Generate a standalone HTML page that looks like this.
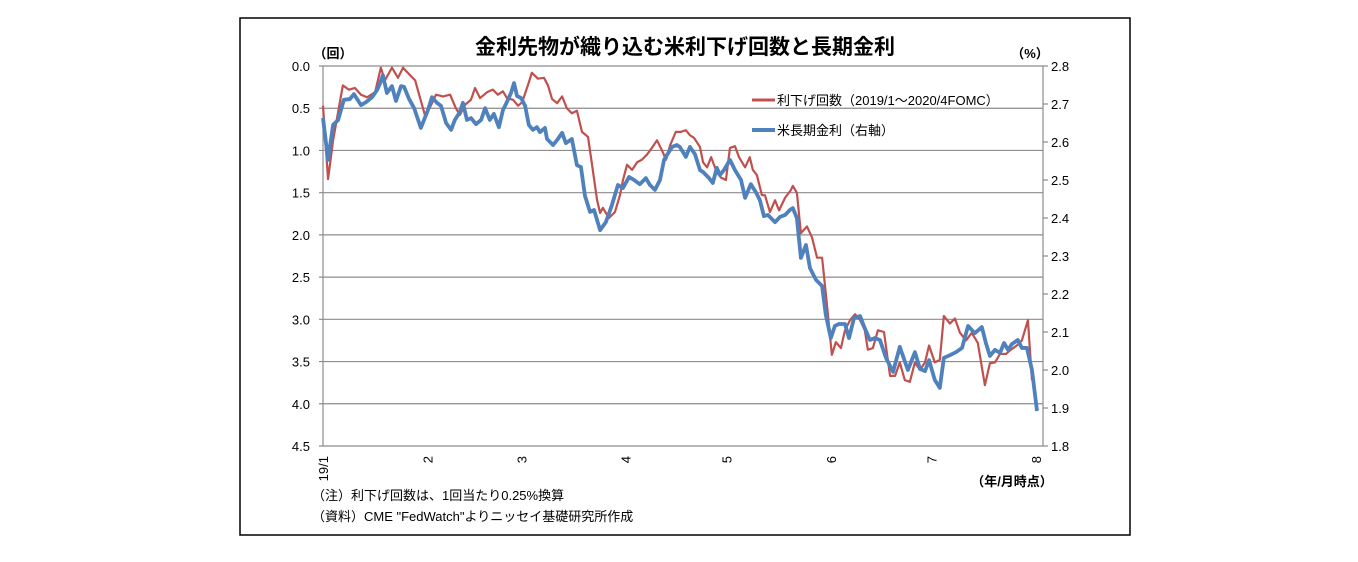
<!DOCTYPE html>
<html><head><meta charset="utf-8"><style>
body{margin:0;background:#fff;}
svg{display:block;font-family:"Liberation Sans","Noto Sans CJK JP",sans-serif;}
</style></head><body>
<svg id="c" width="1358" height="562">
<rect x="240" y="18" width="890" height="517" fill="#fff" stroke="#000" stroke-width="1.5"/>
<text x="685" y="54" font-size="21" font-weight="bold" text-anchor="middle">金利先物が織り込む米利下げ回数と長期金利</text>
<text x="333" y="58" font-size="13" font-weight="bold" text-anchor="middle">（回）</text>
<text x="1030" y="58" font-size="13" font-weight="bold" text-anchor="middle">（%）</text>
<g id="grid"></g><g id="ticks"></g><g id="lines"></g>
<g>
<line x1="752" y1="100" x2="775" y2="100" stroke="#c0504d" stroke-width="3"/>
<text x="777" y="105" font-size="13">利下げ回数（2019/1～2020/4FOMC）</text>
<line x1="752" y1="130" x2="775" y2="130" stroke="#4f81bd" stroke-width="4"/>
<text x="777" y="135" font-size="13">米長期金利（右軸）</text>
</g>
<text x="1012" y="486" font-size="13" font-weight="bold" text-anchor="middle">（年/月時点）</text>
<text x="312" y="500" font-size="13">（注）利下げ回数は、1回当たり0.25%換算</text>
<text x="312" y="521" font-size="13">（資料）CME "FedWatch"よりニッセイ基礎研究所作成</text>
</svg>
<script>
const monthLabels=["19/1","2","3","4","5","6","7","8"];
const monthDays=[0,31,59,90,120,151,181,212];
const leftTicks=[0,0.5,1,1.5,2,2.5,3,3.5,4,4.5];
const rightTicks=[2.8,2.7,2.6,2.5,2.4,2.3,2.2,2.1,2.0,1.9,1.8];
const cutDays=[0,1.5,3,5.9,7.7,9.5,11.3,13.1,15.5,17.2,18.4,20.5,22.3,23.8,25.9,27.4,28.8,30.3,31.8,33.6,35.7,37.8,39.5,40.7,42.2,44,45.2,46.7,48.8,50.5,52,53.5,54.7,56.5,58,59.2,60.9,62.1,63.9,65.7,66.9,68.1,69.6,71.1,72.5,74,75.5,77,78.8,80,81.5,82.4,83.2,85,86.8,88.3,89.2,90.4,91.9,93.4,94.8,96.3,97.8,99.3,100.8,102,103.2,104.9,106.4,107.9,109.1,110.3,112.1,113,114.2,115.4,117.1,118.3,119.8,121,122.5,123.7,125.5,126.9,127.8,129,130.5,131.4,132.9,134.4,135.6,137.4,139.1,139.7,140.9,142.1,143.9,145.4,146.9,148.4,149.8,151.3,152.5,154,155.2,156.7,158.2,159.7,161.1,162,163.5,165,166.8,168.6,170.1,171.5,173,174.5,176,177.5,179,180.2,181.9,183.4,184.6,186.4,187.9,189.4,191.2,192.9,194.7,196.8,198.3,199.8,201.3,203.1,204.5,206.3,207.8,209.6,210.8];
const cutValues=[0.47,1.34,0.88,0.23,0.28,0.26,0.34,0.37,0.31,0.02,0.17,0.02,0.14,0.02,0.11,0.17,0.37,0.58,0.49,0.34,0.36,0.34,0.5,0.58,0.46,0.4,0.26,0.38,0.31,0.28,0.34,0.3,0.38,0.4,0.47,0.43,0.23,0.08,0.15,0.14,0.23,0.39,0.44,0.36,0.5,0.56,0.53,0.78,0.84,1.17,1.59,1.74,1.68,1.8,1.73,1.53,1.35,1.17,1.23,1.14,1.11,1.05,0.97,0.88,1,1.11,0.94,0.78,0.78,0.76,0.82,0.85,0.96,1.14,1.2,1.08,1.26,1.32,1.35,0.97,0.95,1.08,1.2,1.08,1.23,1.29,1.53,1.53,1.73,1.59,1.71,1.56,1.47,1.42,1.5,1.98,1.9,2.03,2.27,2.27,2.81,3.42,3.27,3.34,3.13,3.01,2.94,3.01,3.13,3.36,3.34,3.13,3.15,3.67,3.67,3.51,3.72,3.74,3.51,3.6,3.51,3.31,3.51,3.48,2.96,3.05,2.99,3.16,3.25,3.16,3.28,3.78,3.52,3.51,3.41,3.41,3.36,3.31,3.25,3.01,3.72];
const yieldDays=[0,1.5,3,4.5,6.2,8,9.2,11.3,12.8,14.6,16.1,16.9,17.8,19,20.5,21.7,23.2,24.1,25.6,27.1,29.1,31.2,32.4,33.9,35.1,36.6,38.1,39.2,40.7,41.6,42.8,44,45.5,47,48.2,49.6,50.8,52.3,53.5,54.4,55.9,56.8,57.7,58.9,60.1,61.2,62.4,63.6,64.5,66,66.6,68.4,69.6,71.1,72.2,74,75.5,76.7,77.9,79.4,80.6,82.4,84.1,85.9,87.7,89.2,91,92.5,94.2,96,97.2,98.7,100.2,101.4,102.3,103.8,105.2,106.1,107.9,109.1,110.6,112.1,113,114.8,115.9,117.1,118,119.2,121,122.5,124.3,125.5,127.2,128.7,129.9,131.1,132.3,134.4,135.9,137.4,138.8,139.7,140.9,142.1,143.6,144.8,146.6,148.4,149.5,151,152.2,153.4,155.2,156.4,157.9,159.7,160.8,162.6,164.1,165.6,167.4,169.5,171.5,173.9,176,177.5,179,180.2,181.9,183.4,184.6,186.4,188.2,190,191.8,193.8,195.9,197.1,198.3,199.8,201.3,202.5,203.7,204.8,206.6,207.8,209.3,210.8,212.3];
const yieldValues=[2.663,2.553,2.645,2.658,2.711,2.713,2.726,2.697,2.705,2.718,2.737,2.753,2.776,2.729,2.747,2.708,2.747,2.745,2.713,2.689,2.637,2.684,2.718,2.703,2.695,2.65,2.632,2.658,2.679,2.703,2.658,2.663,2.647,2.658,2.689,2.658,2.674,2.639,2.684,2.7,2.729,2.755,2.721,2.716,2.695,2.645,2.632,2.639,2.626,2.637,2.608,2.592,2.605,2.624,2.597,2.608,2.539,2.534,2.458,2.416,2.421,2.368,2.389,2.434,2.487,2.479,2.508,2.5,2.489,2.505,2.487,2.474,2.5,2.553,2.566,2.587,2.592,2.587,2.561,2.587,2.568,2.526,2.521,2.505,2.492,2.532,2.513,2.526,2.553,2.526,2.5,2.453,2.489,2.468,2.447,2.405,2.408,2.389,2.403,2.408,2.421,2.426,2.4,2.295,2.329,2.268,2.237,2.221,2.145,2.084,2.116,2.121,2.121,2.084,2.137,2.142,2.116,2.079,2.084,2.079,2.032,1.995,2.061,2,2.047,2.003,1.997,2.026,1.974,1.953,2.032,2.039,2.047,2.058,2.116,2.097,2.113,2.071,2.037,2.053,2.045,2.071,2.053,2.068,2.079,2.058,2.058,2,1.892];
const NS="http://www.w3.org/2000/svg";
const X0=323,X1=1043,Y0=66,Y1=446;
const xs=d=>X0+d*(1036-X0)/212;
const yl=v=>Y0+v*(Y1-Y0)/4.5;
const yr=v=>Y0+(2.8-v)*(Y1-Y0)/1.0;
function mk(tag,attrs,parent){const e=document.createElementNS(NS,tag);for(const k in attrs)e.setAttribute(k,attrs[k]);parent.appendChild(e);return e;}
const grid=document.getElementById('grid'),ticks=document.getElementById('ticks'),lines=document.getElementById('lines');
leftTicks.forEach(t=>{
 const l=mk('line',{x1:X0-4,x2:X1,y1:yl(t),y2:yl(t),stroke:'#8c8c8c','stroke-width':1.2},grid);
 
 
 const tx=mk('text',{x:X0-13,y:yl(t)+5,'font-size':13,'text-anchor':'end'},ticks);
 tx.textContent=t.toFixed(1);
 
 
});
rightTicks.forEach(t=>{
 const l=mk('line',{x1:X1,x2:X1+5,y1:yr(t),y2:yr(t),stroke:'#8c8c8c','stroke-width':1.2},grid);
 
 
 const tx=mk('text',{x:X1+8,y:yr(t)+5,'font-size':13},ticks);
 tx.textContent=t.toFixed(1);
 
 
});
const la=mk('line',{x1:X0,x2:X0,y1:Y0,y2:Y1,stroke:'#8c8c8c','stroke-width':1.2},grid);


const ra=mk('line',{x1:X1,x2:X1,y1:Y0,y2:Y1,stroke:'#8c8c8c','stroke-width':1.2},grid);


monthLabels.forEach((m,i)=>{
 const x=xs(monthDays[i])+5;
 const tx=mk('text',{x:x,y:456,'font-size':13,'text-anchor':'end',transform:`rotate(-90 ${x} 456)`},ticks);
 tx.textContent=m;
 
 
});
const pc=mk('polyline',{points:cutDays.map((d,i)=>xs(d)+','+yl(cutValues[i])).join(' '),fill:'none',stroke:'#c0504d','stroke-width':2.2,'stroke-linejoin':'round'},lines);


const py=mk('polyline',{points:yieldDays.map((d,i)=>xs(d)+','+yr(yieldValues[i])).join(' '),fill:'none',stroke:'#4f81bd','stroke-width':3.8,'stroke-linejoin':'round'},lines);


</script>
</body></html>
